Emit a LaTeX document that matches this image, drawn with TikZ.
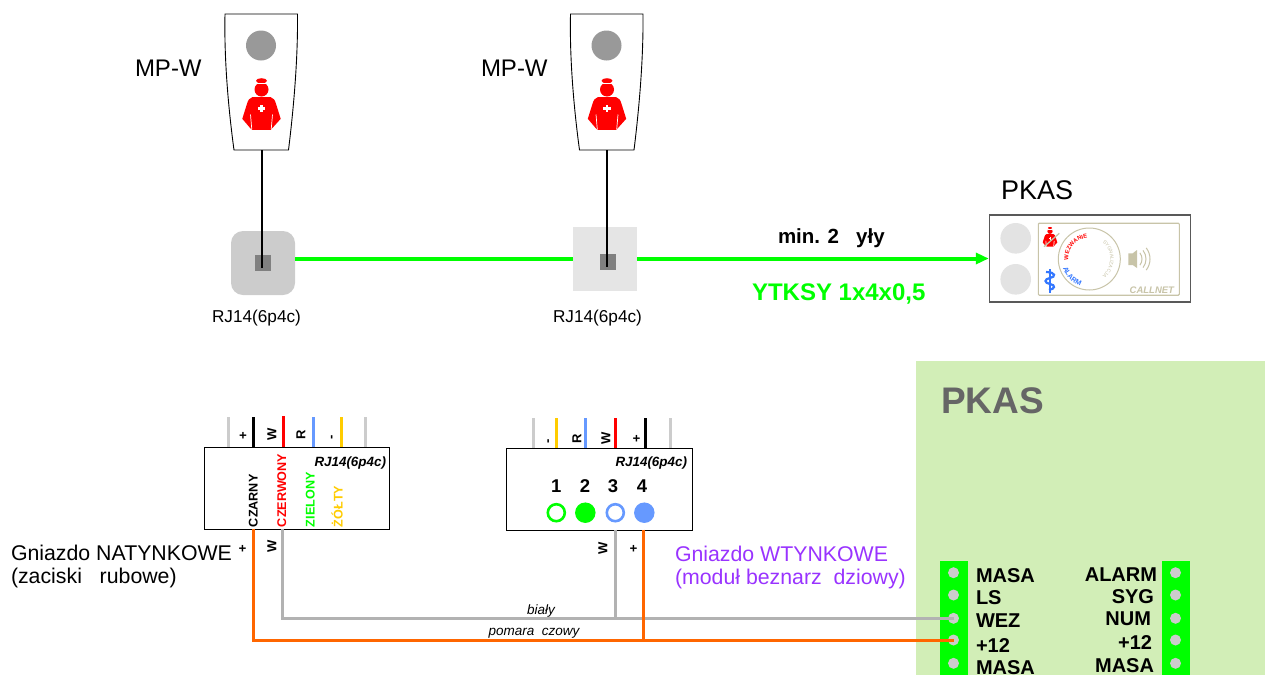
\documentclass[tikz,border=0pt]{standalone}
\usepackage{fontspec}
\setmainfont{Liberation Sans}
\usetikzlibrary{arrows.meta,decorations.text,calc}
\definecolor{grn}{HTML}{00FF00}
\definecolor{org}{HTML}{FF6600}
\definecolor{wgray}{HTML}{B2B2B2}
\definecolor{lgray}{HTML}{CCCCCC}
\definecolor{blu}{HTML}{6699FF}
\definecolor{blu2}{HTML}{3377FF}
\definecolor{yel}{HTML}{FFCC00}
\definecolor{tan2}{HTML}{C8C4A8}
\definecolor{pur}{HTML}{9933FF}
\definecolor{pkasbg}{HTML}{D2EEB7}
\definecolor{rdd}{HTML}{FF0000}
\newcommand{\fs}[1]{\fontsize{#1}{#1}\selectfont}
\tikzset{
  lab/.style={inner sep=0pt,outer sep=0pt,anchor=base west},
  labr/.style={inner sep=0pt,outer sep=0pt,anchor=base east},
  labc/.style={inner sep=0pt,outer sep=0pt,anchor=base},
  vlab/.style={inner sep=0pt,outer sep=0pt,rotate=90,font=\fs{13}\bfseries},
  vtxt/.style={inner sep=0pt,outer sep=0pt,rotate=90,anchor=base west,font=\fs{12.6}\bfseries},
  termlab/.style={font=\fs{20}\bfseries},
  hole/.style={circle,fill=lgray,minimum size=11pt,inner sep=0pt},
  pinw/.style={line width=3pt},
  wire/.style={line width=3pt},
  box/.style={draw=black,line width=1.3pt,fill=white,inner sep=0pt,anchor=north west},
  nurse/.pic={
    \fill[rdd] (0,-27.7) ellipse [x radius=5.5,y radius=2.6];
    \fill[rdd] (0,-19) circle [radius=7];
    \draw[white,line width=.5pt] (-6,-25.6) -- (6,-25.6);
    \fill[rdd] (-9.2,-11.3) -- (9.2,-11.3) .. controls (12,-11) and (13.5,-8) .. (14.5,-4.7)
      -- (19.2,10.3) -- (10.2,20.3) -- (9.2,21.3) -- (-9.2,21.3) -- (-10.7,20.3) -- (-19.2,10.3) -- (-14.5,-4.7)
      .. controls (-13.5,-8) and (-12,-11) .. (-9.2,-11.3) -- cycle;
    \draw[white,line width=.7pt] (11,6) -- (9.7,21);
    \draw[white,line width=.7pt] (-11,6) -- (-9.7,21);
    \fill[white] (-3.7,-1.1) rectangle (3.7,1.1);
    \fill[white] (-1.1,-3.7) rectangle (1.1,3.7);
  },
  device/.pic={
    \draw[black,line width=.9pt,fill=white] (-36.5,-135.5) -- (36,-135.5)
      .. controls (36.5,-90) and (32,-40) .. (27,.5) -- (-27.5,.5)
      .. controls (-33,-40) and (-37.5,-90) .. (-36.5,-135.5) -- cycle;
    \fill[black!40] (-.5,-104) circle [radius=15];
    \pic at (0,-41) {nurse};
  }
}
\begin{document}
\begin{tikzpicture}[x=1pt,y=-1pt]
\useasboundingbox (0,0) rectangle (1265,675);

% ---- upper part: devices
\pic at (261.5,149.5) {device};
\pic at (607,149.5) {device};
\coordinate (d1) at (262,150);
\coordinate (d2) at (607,150);
\node[lab,font=\fs{24}] (mp1) at (135,76.5) {MP-W};
\node[lab,font=\fs{24}] (mp2) at (481,76.5) {MP-W};

% sockets
\node[fill=lgray,rounded corners=12pt,minimum size=64pt,inner sep=0pt] (s1) at (263,263) {};
\node[fill=black!10,minimum size=64pt,inner sep=0pt] (s2) at (605,258.5) {};
\node[fill=black!50,minimum size=16pt,inner sep=0pt] (c1) at (263,263) {};
\node[fill=black!50,minimum size=16pt,inner sep=0pt] (c2) at (608,262) {};
\draw[black,line width=2pt] (d1) -- ($(d1 |- c1.center)+(0,5)$);
\draw[black,line width=2pt] (d2) -- ($(d2 |- c2.center)+(0,5)$);
\node[labc,font=\fs{17.2}] (rj1) at (256.5,322.5) {RJ14(6p4c)};
\node[labc,font=\fs{17.2}] (rj2) at (597.5,322.5) {RJ14(6p4c)};

% PKAS device
\node[draw=black!65,line width=1.1pt,fill=white,minimum width=201pt,minimum height=87pt,inner sep=0pt] (pk) at (1089.8,258.5) {};
\draw[grn,line width=4pt] (s2.west -| s1.east) -- (s2.west);
\draw[grn,line width=4pt,-{Triangle[length=13pt,width=11pt]}] (s2.east) -- (pk.west);
\fill[black!11] (1015.7,238.3) circle [radius=15.3];
\fill[black!11] (1015.7,279.3) circle [radius=15.3];
\node[draw=tan2,line width=1.1pt,rounded corners=1pt,minimum width=141pt,minimum height=72pt,inner sep=0pt] (pi) at (1108.8,259.2) {};
\node[draw=tan2,line width=1pt,circle,minimum size=62pt,inner sep=0pt] (dial) at (1089.3,259) {};
\pic[scale=.38] at (1050,238.5) {nurse};
\draw[tan2,line width=1.3pt] (1044,246.7) -- (1059.3,233.3);
% speaker
\fill[tan2] (1128.3,253.3) -- (1132.7,253.3) -- (1137,250) -- (1137,268) -- (1132.7,265) -- (1128.3,265) -- cycle;
\foreach \r in {10,14,18}{
  \draw[tan2,line width=1pt] ([shift={(38:\r pt)}]1132,259) arc[start angle=38,end angle=-38,radius=\r pt];
}
% rod
\draw[blu2,line width=1.3pt] (1050,269) -- (1050,293);
\draw[blu2,line width=2.2pt] (1046,272) .. controls (1056,272) and (1056,277) .. (1050,278)
   .. controls (1044,279) and (1044,283) .. (1050,284) .. controls (1056,285) and (1055,289) .. (1049,290);
% arc texts
\path[decorate,decoration={text along path,text={|\fs{5.8}\bfseries\color{rdd}|WEZWANIE},text align=center}]
  ([shift={(188:21pt)}]1089.3,259) arc[start angle=188,end angle=90,radius=21pt];
\path[decorate,decoration={text along path,text={|\fs{5}\color{tan2}|SYGNALIZACJA},text align=center}]
  ([shift={(58:21pt)}]1089.3,259) arc[start angle=58,end angle=-58,radius=21pt];
\path[decorate,decoration={text along path,text={|\fs{7}\bfseries\color{blu2}|ALARM},text align=center}]
  ([shift={(190:28pt)}]1089.3,259) arc[start angle=190,end angle=260,radius=28pt];
\node[labr,font=\fs{9.5}\bfseries\itshape,text=tan2] (cal) at (1174,293) {CALLNET};

\node[lab,font=\fs{27}] (pkt) at (1001,199.5) {PKAS};
\node[lab,font=\fs{20.5}\bfseries] (min) at (778,243.5) {min. 2\ \ \ yły};
\node[lab,font=\fs{24}\bfseries,text=grn] (yt) at (752,300) {YTKSY 1x4x0,5};

% ---- lower part
\fill[pkasbg] (916,361) rectangle (1265,675);
\node[lab,font=\fs{37}\bfseries,text=black!60] (pkb) at (941,413) {PKAS};
\fill[grn] (940,561) rectangle (968,675);
\fill[grn] (1162,561) rectangle (1190,675);
\foreach \n/\y in {a/572.7,b/595,c/618.3,d/640,e/663.3}{
  \node[hole] (l\n) at (953.5,\y) {};
  \node[hole] (r\n) at (1175.5,\y) {};
}
\node[lab,termlab] (t1) at (976,582) {MASA};
\node[lab,termlab] (t2) at (976,604) {LS};
\node[lab,termlab] (t3) at (976,627) {WEZ};
\node[lab,termlab] (t4) at (976,652) {+12};
\node[lab,termlab] (t5) at (976,674) {MASA};
\node[labr,termlab] (u1) at (1157,581) {ALARM};
\node[labr,termlab] (u2) at (1154,603) {SYG};
\node[labr,termlab] (u3) at (1151,625) {NUM};
\node[labr,termlab] (u4) at (1152,649) {+12};
\node[labr,termlab] (u5) at (1154,672) {MASA};

% box 1
\draw[lgray,pinw] (228.3,417) -- (228.3,447);
\draw[black,pinw] (253,417) -- (253,447);
\draw[rdd,pinw] (283,416) -- (283,447);
\draw[blu,pinw] (313,417) -- (313,447);
\draw[yel,pinw] (341.3,417) -- (341.3,447);
\draw[lgray,pinw] (365.3,417) -- (365.3,447);
\node[box,minimum width=185.5pt,minimum height=81.5pt] (b1) at (203.5,447) {};
\node[vlab] (p1) at (243.5,436) {+};
\node[vlab] (p2) at (272,434.5) {W};
\node[vlab] (p3) at (301,435) {R};
\node[vlab] (p4) at (333,437) {-};
\node[vtxt] (v1) at (257.5,527) {CZARNY};
\node[vtxt,text=rdd] (v2) at (286,527) {CZERWONY};
\node[vtxt,text=grn] (v3) at (314.5,527) {ZIELONY};
\node[vtxt,text=yel] (v4) at (342.5,527) {ŻÓŁTY};
\node[labr,font=\fs{13.4}\bfseries\itshape] (r1) at (386,466.5) {RJ14(6p4c)};

% box 2
\draw[lgray,pinw] (533.3,418) -- (533.3,448);
\draw[yel,pinw] (556.3,418) -- (556.3,448);
\draw[blu,pinw] (585.3,418) -- (585.3,448);
\draw[rdd,pinw] (615.3,418) -- (615.3,448);
\draw[black,pinw] (645.3,418) -- (645.3,448);
\draw[lgray,pinw] (670.3,418) -- (670.3,448);
\node[box,minimum width=185.5pt,minimum height=81.5pt] (b2) at (506,448) {};
\node[vlab] (q1) at (549.5,441) {-};
\node[vlab] (q2) at (577,439) {R};
\node[vlab] (q3) at (606,438) {W};
\node[vlab] (q4) at (637,439) {+};
\node[labr,font=\fs{13.4}\bfseries\itshape] (r2) at (687,466.5) {RJ14(6p4c)};
\foreach \i/\x in {1/556.3,2/585,3/613,4/642}{
  \node[labc,font=\fs{18.5}\bfseries] (n\i) at (\x,492) {\i};
}
\node[circle,draw=grn,line width=2.6pt,fill=white,minimum size=17pt,inner sep=0pt] (o1) at (556.3,512.7) {};
\node[circle,fill=grn,minimum size=20.5pt,inner sep=0pt] (o2) at (585.3,512.7) {};
\node[circle,draw=blu,line width=2.6pt,fill=white,minimum size=17pt,inner sep=0pt] (o3) at (615.3,512.7) {};
\node[circle,fill=blu,minimum size=20.5pt,inner sep=0pt] (o4) at (644.3,512.7) {};

% wires
\coordinate (g1) at (282.5,528.5);
\coordinate (o1w) at (253.3,528.5);
\coordinate (g2) at (615.3,529.5);
\coordinate (o2w) at (643.3,529.5);
\draw[wgray,wire] (g1) |- (lc.center);
\draw[wgray,wire] (g2) -- (g2 |- lc.center);
\draw[org,wire] (o1w) |- (ld.center);
\draw[org,wire] (o2w) -- (o2w |- ld.center);

\node[vlab] (w1) at (243,549) {+};
\node[vlab] (w2) at (272,546) {W};
\node[vlab] (w3) at (603,548) {W};
\node[vlab] (w4) at (634,549) {+};

\node[lab,font=\fs{21.3}] (g1t) at (11,560) {Gniazdo NATYNKOWE};
\node[lab,font=\fs{21.3}] (g2t) at (11,583) {(zaciski\ \ \ rubowe)};
\node[lab,font=\fs{21.3},text=pur] (g3t) at (675,561) {Gniazdo WTYNKOWE};
\node[lab,font=\fs{21.3},text=pur] (g4t) at (675,584) {(moduł beznarz\ \ dziowy)};
\node[labc,font=\fs{13.5}\itshape] (bi) at (541,614.5) {biały};
\node[labc,font=\fs{13.5}\itshape] (po) at (534,635) {pomara\ \ czowy};
\end{tikzpicture}
\end{document}
